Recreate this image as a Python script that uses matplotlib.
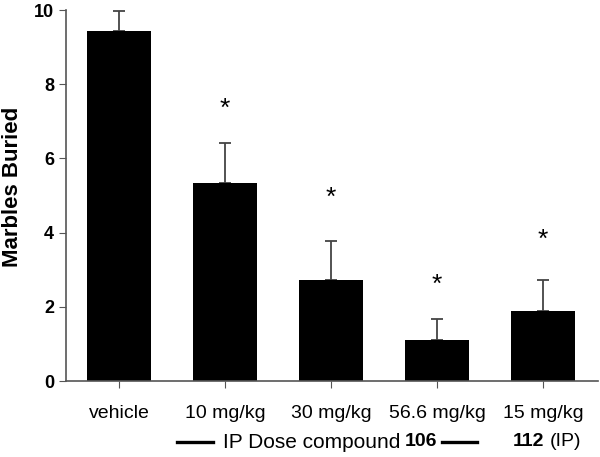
import numpy as np
import matplotlib.pyplot as plt
from matplotlib.lines import Line2D

# data
groups = ['vehicle', '10 mg/kg', '30 mg/kg', '56.6 mg/kg', '15 mg/kg']
means = [9.43, 5.33, 2.72, 1.10, 1.90]
sem = [0.54, 1.10, 1.05, 0.57, 0.82]
star_y = [np.nan, 7.35, 4.95, 2.6, 3.8]  # significance markers

plt.rcParams['font.family'] = ['Liberation Sans', 'DejaVu Sans']
W, H = 600, 457
fig = plt.figure(figsize=(W / 100, H / 100), dpi=100)
ax = fig.add_axes([0.11, 0.166, 0.887, 0.812])

x = np.arange(len(groups))
ax.bar(x, means, width=0.6, color='black', zorder=2)
ax.errorbar(x, means, yerr=[np.zeros(len(sem)), sem], fmt='none',
            ecolor='#444444', elinewidth=1.3, capsize=4, capthick=1.3, zorder=1)
for xi, s in zip(x, star_y):
    if not np.isnan(s):
        ax.text(xi, s, '*', ha='center', va='center', fontsize=19)

ax.set_xlim(-0.5, 4.52)
ax.set_ylim(0, 10)
ax.set_yticks([0, 2, 4, 6, 8, 10])
ax.set_yticklabels(['0', '2', '4', '6', '8', '10'], fontweight='bold', fontsize=13)
ax.set_xticks(x)
ax.set_xticklabels(groups, fontsize=14)
ax.tick_params(axis='x', length=5, pad=12, colors='#555555', labelcolor='black')
ax.tick_params(axis='y', length=5, colors='#555555', labelcolor='black')
ax.set_ylabel('Marbles Buried', fontweight='bold', fontsize=16)
ax.yaxis.set_label_coords(-0.08, 0.523)
for side in ['top', 'right']:
    ax.spines[side].set_visible(False)
for side in ['left', 'bottom']:
    ax.spines[side].set_color('#555555')
    ax.spines[side].set_linewidth(1.2)

# group label under the axis
yb = 1 - 442 / H
fig.add_artist(Line2D([177 / W, 213 / W], [yb, yb], color='black', lw=2.4))
fig.add_artist(Line2D([442 / W, 477 / W], [yb, yb], color='black', lw=2.4))
fig.text(400 / W, yb, 'IP Dose compound', ha='right', va='center', fontsize=15)
fig.text(437 / W, yb, '106', ha='right', va='center', fontsize=14, fontweight='bold')
fig.text(513 / W, yb, '112', ha='left', va='center', fontsize=14, fontweight='bold')
fig.text(581 / W, yb, '(IP)', ha='right', va='center', fontsize=14)

fig.savefig('out.png', dpi=100)
